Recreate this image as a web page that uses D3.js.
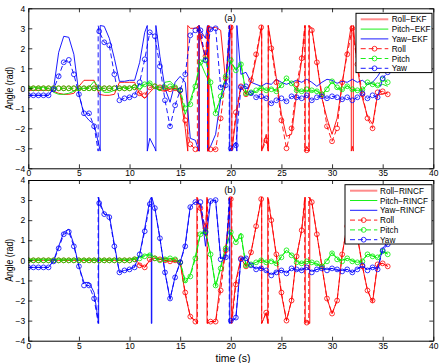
<!DOCTYPE html>
<html>
<head>
<meta charset="utf-8">
<script src="https://cdn.jsdelivr.net/npm/d3@7"></script>
<style>
  body { margin: 0; background: #fff; }
  svg { display: block; font-family: "Liberation Sans", Arial, sans-serif; }
</style>
</head>
<body>
<svg id="fig" width="443" height="363"></svg>
<script>
// sample grid, 0 .. 35.5 s every 0.5 s (72 samples)
const time = d3.range(0, 36, 0.5)

const xTicks = [0, 5, 10, 15, 20, 25, 30, 35, 40]
const yTicks = [-4, -3, -2, -1, 0, 1, 2, 3, 4]

// reference angles (dashed with circles), rows of 10 samples = 5 s
const rollRef = [
  0, 0, 0, 0, 0, 0, 0, 0, 0, 0,
  0, 0, 0, 0, 0, 0, 0, 0, 0, 0,
  0, 0.05, -0.25, -0.35, 0.05, 0.1, 0.05, 0, -0.05, 0,
  -0.1, -1.6, -2.8, -3.05, 2.6, 1.6, -3.05, -3.05, -1.5, 0.5,
  3.05, -1.2, 0.1, -0.3, 0.4, 1.7, 3.05, -2.6, 2.0, 0.3,
  -1.6, -3.0, -2.0, 0.2, 1.5, -3.1, 2.9, 1.3, -0.3, -1.9,
  -2.65, -2.0, 0.3, 1.7, 3.0, 1.2, -0.3, -1.5, -2.0, -0.2,
  -0.15, -0.3
]
const pitchRef = [
  0, 0, 0, 0, 0, 0, 0, 0, 0, 0,
  0, 0, 0, 0, 0, 0, 0, 0, 0, 0,
  0, 0.05, 0.1, 0.2, 0.25, 0.1, 0, 0.05, 0.1, 0.05,
  -0.1, -1.0, -0.8, 0.1, 1.3, 1.45, 0.3, -1.25, -0.4, 0.6,
  1.4, 0.9, 1.2, -0.25, -0.2, -0.1, 0, -0.1, -0.05, -0.15,
  0.15, 0.5, 0.25, -0.1, -0.15, -0.05, -0.1, -0.15, -0.3, -0.05,
  0.35, 0.05, -0.05, 0.1, -0.05, -0.1, -0.05, 0.3, 0.2, 0.15,
  0.45, 0.3
]
const yawRef = [
  -0.35, -0.35, -0.35, -0.35, -0.35, -0.05, 0.6, 1.3, 1.42, 0.7,
  -0.3, -1.25, -1.25, -1.9, 2.85, 2.3, 2.15, 0.7, -0.6, -0.5,
  -0.45, -0.35, 0.3, 1.45, 2.8, 2.6, 1.1, -0.6, -1.9, -0.85,
  -0.1, 0.7, 2.65, 2.9, 2.9, 1.4, 2.95, 3.0, 0.05, 0.15,
  -3.0, -2.85, 0.05, 0.1, -0.25, -0.45, -0.4, -0.5, -0.75, -0.6,
  -0.5, -0.65, -0.4, -0.45, -0.5, -0.35, -0.6, -0.45, -0.4, -0.5,
  -0.4, -0.45, -0.55, -0.45, -0.6, -0.45, -0.25, -0.5, -0.35, -0.45,
  0.5, 0.8
]
// +-pi wraps: [time, value before, value after]
const rollRefWraps = [[16.7, -3.14, 3.14], [17.7, 3.14, -3.14], [20.1, 3.14, -3.14], [23.05, 3.14, -3.14], [23.7, -3.14, 3.14], [27.3, 3.14, -3.14], [27.7, -3.14, 3.14]]
const pitchRefWraps = []
const yawRefWraps = [[6.9, -3.14, 3.14], [19.85, 3.14, -3.14]]

// EKF estimates (panel a)
const rollEkf = [
  -0.1, -0.1, -0.1, -0.1, -0.1, -0.15, -0.25, -0.3, -0.3, -0.25,
  0.1, 0.4, 0.4, 0.4, -0.3, -0.35, -0.35, -0.3, 0.3, 0.3,
  0.3, 0.3, -0.3, -0.5, -0.2, 0.05, -0.1, -0.15, -0.05, 0,
  -0.3, -2.0, 3.0, 3.0, 2.5, 1.5, 3.0, 3.05, 2.9, 0.3,
  3.0, -1.5, 0.1, -0.3, 0.3, 1.5, 3.0, -2.3, 2.2, 0.5,
  -1.3, -2.4, -2.3, -0.3, 1.4, -2.9, 3.0, 1.3, -0.5, -1.5,
  -2.3, -1.5, 0.2, 1.9, -2.9, 1.0, -0.5, -1.4, -1.8, -0.3,
  -0.3, -0.2
]
const pitchEkf = [
  0.05, 0.05, 0.05, 0.05, 0, -0.2, -0.3, -0.3, -0.25, -0.15,
  -0.05, 0, 0.05, 0.35, 0, -0.2, -0.2, -0.1, 0, 0.05,
  0, 0.2, -0.1, 0.2, 0.3, 0, -0.1, 0.3, 0.35, 0.1,
  -0.2, -1.3, -0.6, 0.2, 1.3, 0.7, 0.2, -1.2, -0.5, 0.6,
  1.3, 0.9, 1.3, -0.3, -0.3, -0.15, 0.05, -0.1, 0, -0.1,
  0.2, 0.5, 0.25, -0.1, -0.15, -0.1, -0.15, -0.1, -0.35, 0,
  0.35, 0, -0.1, 0.15, -0.1, -0.1, -0.1, 0.2, 0.25, 0.1,
  0.2, 0.1
]
const yawEkf = [
  -0.35, -0.35, -0.35, -0.35, -0.35, 0, 1.8, 2.6, 2.55, 1.7,
  -0.3, -1.3, -1.6, -1.8, -2.9, 3.1, 2.5, 1.5, 0.35, 0.35,
  0.4, 0.4, 1.3, 2.8, -2.5, -3.0, 1.6, 0, -0.7, 0.3,
  0.6, 0.3, -2.5, -2.6, 2.9, 2.5, -2.9, -2.3, -0.5, 0.1,
  -3.0, -2.7, 0.7, 0.8, 0.3, 0.2, 0.1, 0.25, 0.2, 0.45,
  0.3, 0.2, 0.3, 0.4, 0.3, 0.45, 0.3, 0.1, 0.3, 0.45,
  0.4, 0.25, 0.35, 0.3, 0.45, 0.3, 0.4, 0.2, 0.3, 0.6,
  1.0, 0.8
]
const rollEkfWraps = [[15.75, -3.14, 3.14], [16.85, 3.14, -3.14], [16.9, -3.14, 3.14], [17.8, 3.14, -3.14], [17.85, -3.14, 3.14], [20.1, 3.14, -3.14], [23.05, 3.14, -3.14], [23.7, -3.14, 3.14], [27.35, 3.14, -3.14], [27.75, -3.14, 3.14], [31.9, 3.14, -3.14], [32.1, -3.14, 3.14]]
const pitchEkfWraps = []
const yawEkfWraps = [[7.1, -3.14, 3.14], [11.75, 3.14, -3.14], [12.6, -3.14, 3.14], [16.85, -3.14, 3.14], [17.7, 3.14, -3.14], [19.9, 3.14, -3.14], [20.6, -3.14, 3.14]]

// RINCF estimates (panel b)
const rollRincf = [
  0, 0, 0, 0, 0, 0, 0, 0, 0, 0,
  0, 0, 0, 0, 0, 0, 0, 0, 0, 0,
  0, 0.1, -0.2, -0.35, 0, 0.1, 0.05, 0, -0.05, -0.05,
  -0.1, -1.7, -2.8, -3.0, 2.5, 1.2, -3.05, -3.05, -1.0, 0.6,
  3.0, -1.0, 0.1, -0.3, 0.4, 1.7, 3.0, -2.6, 2.0, 0.2,
  -1.7, -3.0, -2.0, 0.2, 1.5, -3.0, 2.9, 1.3, -0.3, -1.9,
  -2.65, -2.0, 0.3, 1.8, 3.0, 1.2, -0.3, -1.5, -2.1, -0.2,
  -0.15, -0.3
]
const pitchRincf = [
  0.05, 0.05, 0.05, 0.05, 0.05, 0.05, 0.05, 0.05, 0.05, 0.05,
  0.05, 0.05, 0.05, 0.05, 0.05, 0.05, 0.05, 0.05, 0.05, 0.05,
  0.05, 0.1, 0.15, 0.25, 0.3, 0.15, 0.05, 0.1, 0.1, 0.05,
  -0.1, -1.1, -0.7, 0.2, 1.35, 1.4, 0.3, -1.3, -0.3, 0.7,
  1.4, 0.9, 1.35, -0.3, -0.2, -0.1, 0.05, -0.1, 0, -0.15,
  0.2, 0.5, 0.3, -0.05, -0.15, -0.05, -0.1, -0.2, -0.3, 0,
  0.4, 0.1, 0, 0.1, 0, -0.1, 0, 0.3, 0.25, 0.1,
  0.45, 0.35
]
const yawRincf = [
  -0.35, -0.35, -0.35, -0.35, -0.35, 0, 0.7, 1.4, 1.55, 0.8,
  -0.3, -1.1, -1.1, -1.6, 3.0, 2.3, 2.25, 0.8, -0.6, -0.5,
  -0.45, -0.3, 0.3, 1.6, 3.0, 2.6, 1.1, -0.6, -1.95, -0.8,
  -0.1, 0.8, 2.7, 2.9, 2.8, 0.7, 2.95, 3.0, 0.1, 0.1,
  -3.05, -2.9, 0.1, 0.15, -0.25, -0.4, -0.35, -0.55, -0.7, -0.55,
  -0.5, -0.6, -0.4, -0.5, -0.45, -0.35, -0.55, -0.45, -0.4, -0.45,
  -0.4, -0.5, -0.5, -0.45, -0.6, -0.4, -0.3, -0.45, -0.35, -0.4,
  0.6, 0.9
]
const rollRincfWraps = [[16.65, -3.14, 3.14], [17.65, 3.14, -3.14], [20.05, 3.14, -3.14], [23.05, 3.14, -3.14], [23.65, -3.14, 3.14], [27.35, 3.14, -3.14], [27.8, -3.14, 3.14]]
const pitchRincfWraps = []
const yawRincfWraps = [[6.95, -3.14, 3.14], [12.15, 3.14, -3.14], [12.2, -3.14, 3.14], [19.9, 3.14, -3.14]]

const RED = "#ff0000", GREEN = "#00ee00", BLUE = "#0000ff"

const refs = [
  { name: "Roll", vals: rollRef, wraps: rollRefWraps, color: RED },
  { name: "Pitch", vals: pitchRef, wraps: pitchRefWraps, color: GREEN },
  { name: "Yaw", vals: yawRef, wraps: yawRefWraps, color: BLUE }
]

const panels = [
  { id: "a", top: 8.3, bottom: 168.3, title: "(a)",
    legend: { x0: 356, x1: 432, y0: 13.3, line0: 360.7, line1: 388.3, text: 391.7 },
    est: [
      { name: "Roll\u2212EKF", vals: rollEkf, wraps: rollEkfWraps, color: RED },
      { name: "Pitch\u2212EKF", vals: pitchEkf, wraps: pitchEkfWraps, color: GREEN },
      { name: "Yaw\u2212EKF", vals: yawEkf, wraps: yawEkfWraps, color: BLUE }
    ] },
  { id: "b", top: 180, bottom: 340.7, title: "(b)",
    legend: { x0: 345, x1: 432, y0: 184.7, line0: 350, line1: 377.3, text: 380 },
    est: [
      { name: "Roll\u2212RINCF", vals: rollRincf, wraps: rollRincfWraps, color: RED },
      { name: "Pitch\u2212RINCF", vals: pitchRincf, wraps: pitchRincfWraps, color: GREEN },
      { name: "Yaw\u2212RINCF", vals: yawRincf, wraps: yawRincfWraps, color: BLUE }
    ] }
]

// merge grid samples with the wrap jumps
function seriesPoints(vals, wraps) {
  const pts = time.map((t, i) => ({ t: t, v: vals[i], mark: true, k: 0 }))
  wraps.forEach(w => {
    pts.push({ t: w[0], v: w[1], mark: false, k: 1 })
    pts.push({ t: w[0], v: w[2], mark: false, k: 2 })
  })
  return pts.sort((a, b) => a.t - b.t || a.k - b.k)
}

const svg = d3.select("#fig")
const left = 28.3, right = 433.3
const x = d3.scaleLinear().domain([0, 40]).range([left, right])

panels.forEach(p => {
  const y = d3.scaleLinear().domain([-4, 4]).range([p.bottom, p.top])
  const g = svg.append("g").attr("class", "panel-" + p.id)

  svg.append("clipPath").attr("id", "clip-" + p.id)
    .append("rect").attr("x", left).attr("y", p.top).attr("width", right - left).attr("height", p.bottom - p.top)

  const plot = g.append("g").attr("clip-path", `url(#clip-${p.id})`)
  const line = d3.line().x(d => x(d.t)).y(d => y(d.v))

  p.est.forEach(s => {
    plot.append("path").attr("d", line(seriesPoints(s.vals, s.wraps)))
      .attr("fill", "none").attr("stroke", s.color).attr("stroke-width", 0.9)
  })

  refs.forEach(s => {
    const pts = seriesPoints(s.vals, s.wraps)
    plot.append("path").attr("d", line(pts))
      .attr("fill", "none").attr("stroke", s.color).attr("stroke-width", 0.9).attr("stroke-dasharray", "5,3")
    plot.append("g").selectAll("circle").data(pts.filter(d => d.mark)).join("circle")
      .attr("cx", d => x(d.t)).attr("cy", d => y(d.v)).attr("r", 2.4)
      .attr("fill", "none").attr("stroke", s.color).attr("stroke-width", 0.8)
  })

  // box axes, ticks inward like matlab
  const axB = g.append("g").attr("transform", `translate(0,${p.bottom})`)
    .call(d3.axisBottom(x).tickValues(xTicks).tickSize(-4).tickSizeOuter(0).tickPadding(2))
  const axT = g.append("g").attr("transform", `translate(0,${p.top})`)
    .call(d3.axisTop(x).tickValues(xTicks).tickSize(-4).tickSizeOuter(0).tickFormat(""))
  const axL = g.append("g").attr("transform", `translate(${left},0)`)
    .call(d3.axisLeft(y).tickValues(yTicks).tickSize(-4).tickSizeOuter(0).tickPadding(3))
  const axR = g.append("g").attr("transform", `translate(${right},0)`)
    .call(d3.axisRight(y).tickValues(yTicks).tickSize(-4).tickSizeOuter(0).tickFormat(""))
  ;[axB, axT, axL, axR].forEach(a => a.attr("font-family", "Liberation Sans, Arial, sans-serif").attr("font-size", 8.5))
  g.selectAll(".tick line").attr("stroke-width", 0.8)

  g.append("text").attr("x", 230).attr("y", p.top + 13).attr("text-anchor", "middle")
    .attr("font-size", 9.5).text(p.title)

  g.append("text").attr("transform", `translate(13,${(p.top + p.bottom) / 2}) rotate(-90)`)
    .attr("text-anchor", "middle").attr("font-size", 11)
    .attr("textLength", 43).attr("lengthAdjust", "spacingAndGlyphs").text("Angle (rad)")

  // legend
  const L = p.legend, rowH = 9.8
  const lg = g.append("g")
  lg.append("rect").attr("x", L.x0).attr("y", L.y0).attr("width", L.x1 - L.x0).attr("height", 6 * rowH + 0.5)
    .attr("fill", "#fff").attr("stroke", "#000").attr("stroke-width", 1)
  const items = p.est.map(s => ({ name: s.name, color: s.color, ref: false }))
    .concat(refs.map(s => ({ name: s.name, color: s.color, ref: true })))
  items.forEach((it, i) => {
    const yy = L.y0 + 6 + i * rowH
    const pale = !it.ref && it.color === RED
    lg.append("line").attr("x1", L.line0).attr("x2", L.line1).attr("y1", yy).attr("y2", yy)
      .attr("stroke", pale ? "#ff8c8c" : it.color).attr("stroke-width", pale ? 2 : 0.9)
      .attr("stroke-dasharray", it.ref ? "5,3" : null)
    if (it.ref) {
      lg.append("circle").attr("cx", (L.line0 + L.line1) / 2).attr("cy", yy).attr("r", 2.4)
        .attr("fill", "none").attr("stroke", it.color).attr("stroke-width", 0.8)
    }
    lg.append("text").attr("x", L.text).attr("y", yy + 3).attr("font-size", 8.2).text(it.name)
  })
})

svg.append("text").attr("x", 233).attr("y", 361.5).attr("text-anchor", "middle")
  .attr("font-size", 10.5).text("time (s)")
</script>
</body>
</html>
